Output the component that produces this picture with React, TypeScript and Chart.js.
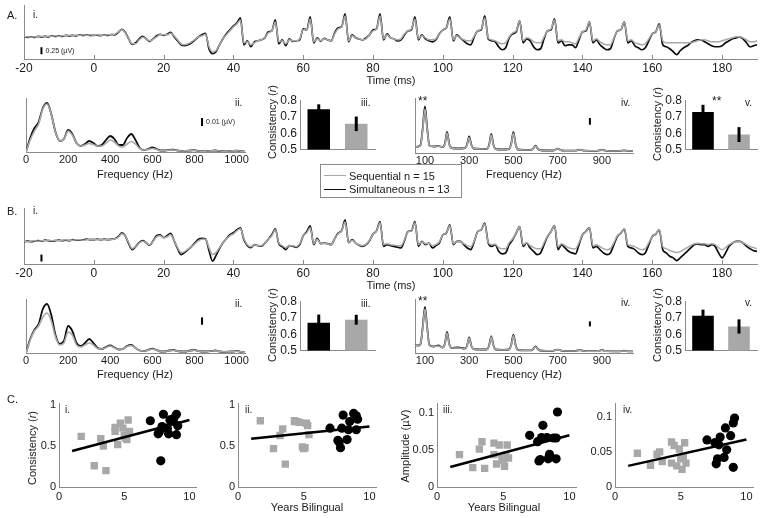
import { useEffect, useRef } from "react";
import { Chart, registerables } from "chart.js";

Chart.register(...registerables);

const FONT = '"Liberation Sans", Arial, Helvetica, sans-serif';
const INK = "#1a1a1a";
const AXIS = "#8a8a8a";
const GRAY = "#a8a8a8";
const BLACK = "#0d0d0d";
Chart.defaults.font.family = FONT;
Chart.defaults.color = INK;

// ---------------- DATA ----------------
const timeMs = [
  -20, -19, -18, -17, -16, -15, -14, -13, -12, -11,
  -10, -9, -8, -7, -6, -5, -4, -3, -2, -1,
  0, 1, 2, 3, 4, 5, 6, 7, 8, 9,
  10, 11, 12, 13, 14, 15, 16, 17, 18, 19,
  20, 21, 22, 23, 24, 25, 26, 27, 28, 29,
  30, 31, 32, 33, 34, 35, 36, 37, 38, 39,
  40, 41, 42, 43, 44, 45, 46, 47, 48, 49,
  50, 51, 52, 53, 54, 55, 56, 57, 58, 59,
  60, 61, 62, 63, 64, 65, 66, 67, 68, 69,
  70, 71, 72, 73, 74, 75, 76, 77, 78, 79,
  80, 81, 82, 83, 84, 85, 86, 87, 88, 89,
  90, 91, 92, 93, 94, 95, 96, 97, 98, 99,
  100, 101, 102, 103, 104, 105, 106, 107, 108, 109,
  110, 111, 112, 113, 114, 115, 116, 117, 118, 119,
  120, 121, 122, 123, 124, 125, 126, 127, 128, 129,
  130, 131, 132, 133, 134, 135, 136, 137, 138, 139,
  140, 141, 142, 143, 144, 145, 146, 147, 148, 149,
  150, 151, 152, 153, 154, 155, 156, 157, 158, 159,
  160, 161, 162, 163, 164, 165, 166, 167, 168, 169,
  170, 171, 172, 173, 174, 175, 176, 177, 178, 179,
  180, 181, 182, 183, 184, 185, 186, 187, 188, 189,
  190,
];

// A.i waveform, simultaneous (black)
const waveASim = [
  -2, -2.5, -2, -2.5, -1.5, -2, -1.5, -2, -1, -1.5,
  -1, -1.5, -0.5, -1, -0.5, -1, 0, -0.5, 0, -0.5,
  -0.5, -0.3, -0.8, 0, -0.5, 0.3, 0, 2.5, 5.5, 2.5,
  -4, -9.5, -8, -4, -1.5, -4, -6.5, -4, -1, 0.5,
  -0.5, 0.5, 2.5, -2, -6, -10, -11, -10, -8, -5,
  -2, 0, 1.5, -14, -19, -17, -10, -4, 1, 5,
  9, 12, 17, -10, -6, -12, -7, -6, -5, -3,
  3, 4, 15, -9, -5, -11, -4, -6.5, -6, -5,
  6, 5, 18, -8, -3, -6.5, -3.5, -5, -6, 2,
  7, 8, 21, -7, 0, -3, -4, -5, -3, 0,
  5, 6, 21, -5, 1, -3, -4, -6, -5, 0,
  4, 5, 18, -5, 0, -4, -6, -7, -5, 1,
  5, 7, 18, -6, 0, -3, -6, -9, -10, -2,
  4, 5, 19, -4, -6, -7, -12, -15, -13, -3,
  1, 3, 14, -8, -4, -6, -12, -15, -14, -4,
  4, 5, 16, -8, -6, -11, -10, -10, -13, -5,
  3, 4, 13, -8, -5, -10, -13, -15, -14, -4,
  4, 5, 13, -8, -6, -11, -13, -15, -13, -6,
  1, 3, 11, -10, -12, -14, -17, -20, -16, -13,
  -11, -8, -6, -5, -5, -7, -9, -11, -12, -12,
  -11, -8, -6, -4, -3, -2, -4, -8, -12, -11,
  -10,
];
// A.i waveform, sequential (gray)
const waveASeq = [
  -2, -2, -2.5, -2, -2, -1.5, -2, -1.5, -1.5, -1,
  -1.5, -1, -1, -0.5, -1, -0.5, -0.5, 0, -0.5, 0,
  -0.5, 0, -0.5, -0.3, 0, 0, 0.5, 3, 5, 2,
  -4, -9, -9, -5, -2.5, -4, -6, -4.5, -2, 0,
  0, 0, 1.5, -1, -5, -9, -10, -9, -7, -4.5,
  -2, -1, 0.5, -12, -17, -16, -10, -4, 0, 4,
  8, 11, 15, -8, -7, -10, -8, -6, -5, -3,
  2, 4, 13, -7, -6, -9, -5, -6, -6, -4,
  5, 5, 16, -7, -4, -6, -4, -5, -6, 1,
  6, 8, 19, -6, -1, -3, -4, -5, -4, 0,
  4, 6, 19, -4, 0, -3, -4, -5, -4, 1,
  4, 6, 16, -4, -1, -3, -5, -5, -4, 1,
  5, 7, 16, -5, -1, -3, -5, -6, -6, -1,
  4, 6, 17, -3, -5, -6, -8, -9, -8, -2,
  2, 4, 14, -6, -3, -4, -7, -8, -8, -2,
  4, 6, 15, -6, -5, -7, -7, -8, -9, -3,
  3, 5, 13, -6, -4, -7, -9, -10, -10, -3,
  4, 5, 13, -6, -5, -8, -9, -10, -9, -4,
  1, 3, 10, -6, -8, -8, -8, -8, -8, -8,
  -8, -8, -7, -6, -5, -5, -6, -7, -7, -7,
  -6, -5, -4, -3, -2, -2, -3, -5, -7, -7,
  -6,
];
// B.i waveform, simultaneous (black)
const waveBSim = [
  -1, -0.5, -1, -0.5, 0, -0.5, 0.5, 0, -0.5, 0,
  0.5, 0, 0.5, 0, 1, 0.5, 0.5, 1, 1.5, 1,
  1, 1.5, 1, 1.5, 1, 1.5, 2, 4, 8, 5,
  -3, -9, -6, -2, 0, -2, -4.5, 0, 5, 6,
  3, 5, 7.5, 0, -8, -14, -12, -9, -6, -2,
  1.5, 2.5, 2, -10, -20.5, -15, -8, -2, 2, 6,
  8, 11, 13, 1, -5, -7, -4, -5, -5.5, -2.3,
  1.5, 6, 12, -3, -6, -9, -5, -5.5, -6.7, -4,
  5, 9, 15, -4, 2.5, -3, -2.5, -3, -4, 2,
  7.7, 10, 21, -2, 1, -2.5, -4.5, -5.7, -4, 0,
  6.7, 10, 19.3, -5.7, -4, -5, -5.7, -6.5, -7.3, 0,
  9.3, 10, 19.3, -5.7, -0.7, -4, -2.3, -7.3, -5, -2.3,
  6, 7.7, 16, -4, -0.7, -0.7, -4, -7.3, -9, -0.7,
  9.3, 11, 17.7, -2.3, -5.7, -4, -10.7, -13.3, -12.3, -4,
  1, 7.7, 14.3, -5.7, -2.3, -7.3, -10.7, -14, -12.3, -4,
  4.3, 9.3, 15.3, -9, -4, -7.3, -10.7, -12.3, -13.3, -4,
  6, 9.3, 13.3, -7.3, -5.7, -9, -12.3, -14, -12.3, -4,
  4.3, 7.7, 11.7, -5.7, -7.3, -9, -12.3, -14, -12.3, -4,
  4.3, 6.7, 11, -9, -12.3, -15.7, -17.3, -20, -17.3, -14,
  -10.7, -7.3, -4, -3.3, -4, -4, -5.7, -4, -5.7, -12.3,
  -17.3, -12.3, -5.7, -2.3, -0.7, -0.7, -2.3, -5.7, -8, -10,
  -10.7,
];
// B.i waveform, sequential (gray)
const waveBSeq = [
  -0.5, -1, -0.5, 0, -0.5, 0, 0, 0.5, 0, 0.5,
  0, 0.5, 1, 0.5, 0.5, 1, 1, 0.5, 1, 1.5,
  1.5, 1, 1.5, 1, 1.5, 1, 2, 3.5, 7, 5,
  -2, -8, -6, -2.5, -0.5, -2, -4, -0.5, 4, 5,
  3, 4, 6, 0, -7, -12, -11, -8.5, -6, -3,
  0, 1.5, 1.5, -7, -14, -12, -7, -2, 2, 5,
  7, 10, 12, 2, -4, -6, -4, -5, -5, -2,
  1.5, 5, 11, -2, -5, -7, -5, -5, -6, -3,
  5, 8, 13, -3, 1.5, -3, -2.5, -3, -4, 2,
  7, 10, 19, -2, 0.5, -2.5, -4, -5, -3.5, 0.5,
  6.5, 10, 18, -4, -3, -4, -4.5, -5, -5, 1,
  9, 10, 18, -4, -1, -3, -2.5, -5, -4, -1,
  6, 8, 15, -3, -1, -1, -3, -5, -6, 0,
  9, 11, 17, -2, -4, -3.5, -7, -8, -8, -2,
  2, 8, 14, -4, -2, -5, -7, -8, -8, -2,
  5, 9, 15, -6, -3, -5, -7, -8, -8, -2,
  6, 9, 13, -5, -4, -6, -8, -9, -8, -2,
  5, 8, 12, -4, -5, -6, -8, -9, -8, -2,
  4, 7, 11, -6, -8, -10, -11, -12, -11, -9,
  -7, -5, -3, -2.5, -3, -3, -4, -3, -4, -7,
  -9, -7, -4, -2, -1, -1, -2, -4, -6, -7,
  -8,
];

// spectra, 0-1040 Hz
const freqLow = [
  0, 20, 40, 60, 80, 100, 120, 140, 160, 180, 200, 220, 240, 260, 280, 300, 320, 340,
  360, 380, 400, 420, 440, 460, 480, 500, 520, 540, 560, 580, 600, 620, 640, 660, 680,
  700, 720, 740, 760, 780, 800, 820, 840, 860, 880, 900, 920, 940, 960, 980, 1000, 1020, 1040,
];
const specAiiSim = [
  0, 14, 24, 30, 44, 49, 38, 20, 11, 13, 22, 18, 9, 6, 8, 11, 9, 6,
  7, 12, 16, 13, 7, 7, 14, 18, 12, 4, 2, 3, 4.5, 3, 1.5, 1.5, 2,
  2.3, 1.5, 1, 1.2, 1.5, 1.8, 1, 0.8, 1, 1.2, 1.5, 1, 0.8, 1, 1.2, 1.3, 0.8, 0.3,
];
const specAiiSeq = [
  0, 12, 21, 28, 43, 48, 38, 20, 11, 13, 21, 17, 9, 6, 7, 8.5, 7.5, 6,
  6, 9, 12, 10, 6, 5, 8, 10.5, 8, 3.5, 2, 2.5, 3.5, 2.5, 1.5, 1.5, 1.8,
  2, 1.5, 1, 1.2, 1.4, 1.6, 1, 0.8, 1, 1.1, 1.4, 1, 0.8, 1, 1.1, 1.2, 0.8, 0.3,
];
const specBiiSim = [
  0, 14, 23, 29, 44, 49, 38, 18, 9, 12, 27, 22, 10, 7, 10, 14, 10, 5,
  4, 6, 7.5, 5.5, 3.5, 4, 7, 8, 5, 2.5, 2, 3, 4.3, 3, 1.5, 1.5, 2.5,
  3, 2, 1.5, 1.5, 2.5, 3, 2, 1.5, 1.5, 2, 2.5, 1.5, 1.2, 1.3, 1.5, 2, 1.2, 0.5,
];
const specBiiSeq = [
  0, 13, 22, 27, 36, 40, 32, 16, 8, 10, 21, 18, 8, 6, 8, 10, 8, 4.5,
  4, 5.5, 7, 5, 3.5, 4, 6.5, 7.5, 5, 2.5, 2, 2.8, 4, 2.8, 1.5, 1.5, 2.3,
  2.8, 2, 1.5, 1.5, 2.3, 2.8, 2, 1.5, 1.5, 2, 2.3, 1.5, 1.2, 1.3, 1.5, 1.8, 1.2, 0.5,
];

// spectra, 55-1041 Hz (harmonics)
const freqHigh = [
  55, 70, 80, 90, 100, 110, 120, 140, 160, 180, 190, 200, 210, 220, 250, 280, 290, 300,
  310, 320, 350, 380, 390, 400, 410, 420, 450, 480, 490, 500, 510, 520, 550, 580, 590,
  600, 610, 620, 650, 680, 690, 700, 710, 720, 750, 780, 790, 800, 810, 820, 850, 880,
  890, 900, 910, 920, 950, 980, 990, 1000, 1010, 1020, 1041,
];
const specAivSim = [
  6, 6.5, 8, 25, 46.6, 25, 7.5, 6.5, 7, 6, 9, 21, 9, 5, 4.5, 5, 8, 16.6,
  8, 4.5, 4, 4, 8, 19, 8, 4, 3.5, 4, 9, 21, 9, 3.5, 3, 3, 4.5,
  7.3, 4.5, 3, 2.5, 2.5, 3.3, 4.3, 3.3, 2.5, 2.3, 2.3, 2.8, 3.3, 2.8, 2.3, 2.2, 2.2,
  2.7, 3.3, 2.7, 2.2, 2, 2, 2.3, 2.6, 2.3, 2, 2,
];
const specAivSeq = [
  6, 6.5, 8, 24, 44, 24, 7.5, 6.5, 7, 6, 8.5, 20, 8.5, 5, 4.5, 5, 7.5, 15.5,
  7.5, 4.5, 4, 4, 7.5, 18, 7.5, 4, 3.5, 4, 8.5, 20, 8.5, 3.5, 3, 3, 4.3,
  7, 4.3, 3, 2.5, 2.5, 3.2, 4.2, 3.2, 2.5, 2.3, 2.3, 2.8, 3.2, 2.8, 2.3, 2.2, 2.2,
  2.6, 3.2, 2.6, 2.2, 2, 2, 2.3, 2.5, 2.3, 2, 2,
];
const specBivSim = [
  7.7, 7.5, 9, 26, 46, 26, 8, 6.5, 7.5, 5.5, 9, 21, 9, 5, 5.5, 4.5, 7, 15.7,
  7, 4, 3.5, 3.5, 7.5, 16.7, 7.5, 3.5, 3, 3.5, 8, 18.3, 8, 3, 2.7, 2.7, 4,
  6.7, 4, 2.5, 2.2, 2.2, 2.8, 3.3, 2.8, 2.2, 2, 2, 2.5, 3, 2.5, 2, 1.8, 1.8,
  2.4, 3, 2.4, 1.8, 1.7, 1.7, 2, 2.3, 2, 1.7, 1.7,
];
const specBivSeq = [
  7.5, 7.5, 9, 25, 44, 25, 8, 6.5, 7, 5.5, 8.5, 20, 8.5, 5, 5, 4.5, 7, 15,
  7, 4, 3.5, 3.5, 7, 16, 7, 3.5, 3, 3.5, 7.5, 17.5, 7.5, 3, 2.7, 2.7, 4,
  6.3, 4, 2.5, 2.2, 2.2, 2.7, 3.2, 2.7, 2.2, 2, 2, 2.4, 2.9, 2.4, 2, 1.8, 1.8,
  2.3, 2.9, 2.3, 1.8, 1.7, 1.7, 2, 2.2, 2, 1.7, 1.7,
];

// bar panels: [Simultaneous, Sequential]
const groups = ["Simultaneous", "Sequential"];
const consAiii = [0.745, 0.657];
const errAiii = [0.03, 0.044];
const consAv = [0.729, 0.592];
const errAv = [0.043, 0.045];
const consBiii = [0.669, 0.688];
const errBiii = [0.05, 0.03];
const consBv = [0.712, 0.647];
const errBv = [0.037, 0.043];

// scatter panels
const yearsSeq = [1.7, 2.7, 3.2, 3.4, 3.6, 4.3, 4.3, 4.5, 4.7, 4.9, 5.0, 5.1, 5.2, 5.3, 5.4];
const yearsSim = [7.0, 7.6, 7.7, 7.8, 7.9, 8.0, 8.3, 8.4, 8.5, 8.8, 9.0, 9.0, 9.1];
const cConsSeq = [0.62, 0.26, 0.59, 0.5, 0.2, 0.73, 0.68, 0.52, 0.78, 0.72, 0.63, 0.6, 0.58, 0.82, 0.68];
const cConsSim = [0.81, 0.65, 0.68, 0.32, 0.74, 0.89, 0.72, 0.65, 0.82, 0.84, 0.64, 0.89, 0.75];
const cCons2Seq = [0.81, 0.47, 0.63, 0.71, 0.28, 0.81, 0.8, 0.8, 0.79, 0.49, 0.47, 0.48, 0.78, 0.75, 0.64];
const cCons2Sim = [0.72, 0.57, 0.55, 0.48, 0.72, 0.88, 0.58, 0.7, 0.8, 0.9, 0.7, 0.87, 0.83];
const cAmpSeq = [0.0435, 0.026, 0.051, 0.061, 0.025, 0.059, 0.0435, 0.031, 0.0565, 0.039, 0.036, 0.028, 0.042, 0.0565, 0.039];
const cAmpSim = [0.0696, 0.061, 0.035, 0.037, 0.0665, 0.083, 0.0665, 0.038, 0.044, 0.066, 0.038, 0.066, 0.101];
const cAmp2Seq = [0.048, 0.031, 0.0465, 0.05, 0.036, 0.064, 0.034, 0.059, 0.03, 0.054, 0.04, 0.025, 0.042, 0.063, 0.034];
const cAmp2Sim = [0.067, 0.063, 0.033, 0.04, 0.06, 0.071, 0.042, 0.084, 0.053, 0.073, 0.091, 0.028, 0.098];
const fitYears = [1, 10];
const fitCons = [0.44, 0.82];
const fitCons2 = [0.59, 0.74];
const fitAmp = [0.027, 0.0696];
const fitAmp2 = [0.03, 0.0675];

// tick labels
const timeTicks = [-20, 0, 20, 40, 60, 80, 100, 120, 140, 160, 180];
const freqTicksLow = [0, 200, 400, 600, 800, 1000];
const freqTicksHigh = [100, 300, 500, 700, 900];
const consTicks = [0.5, 0.6, 0.7, 0.8];
const yearTicks = [0, 5, 10];
const consScatTicks = [0, 0.5, 1];
const ampTicks = [0, 0.05, 0.1];

// ---------------- HELPERS ----------------
type Frame = { x: number; y: number; w: number; h: number; ml: number; mt: number; mr: number; mb: number };
const frame = (l: number, t: number, r: number, b: number, ml: number, mt: number, mr: number, mb: number): Frame => ({
  x: l - ml, y: t - mt, w: r - l + ml + mr, h: b - t + mt + mb, ml, mt, mr, mb,
});

const pts = (xs: number[], ys: number[]) => xs.map((x, i) => ({ x, y: ys[i] }));

function linAxis(dir: "x" | "y", f: Frame, min: number, max: number, tickVals: number[] | null,
  fmt: ((v: number) => string) | null, pad = 2, size = 11) {
  return {
    type: "linear", min, max,
    grid: { display: false, drawTicks: false },
    border: { display: true, color: AXIS, width: 1 },
    ticks: {
      display: !!fmt, padding: pad, color: INK, font: { size, family: FONT },
      autoSkip: false, maxRotation: 0, minRotation: 0,
      callback: (v: any) => (fmt ? fmt(Number(v)) : ""),
    },
    afterBuildTicks: (s: any) => { if (tickVals) s.ticks = tickVals.map((v) => ({ value: v })); },
    afterFit: (s: any) => { if (dir === "x") s.height = f.mb; else s.width = f.ml; },
  };
}

const baseOpts = (f: Frame, scales: any) => ({
  responsive: false, maintainAspectRatio: false, animation: false, devicePixelRatio: 1, events: [],
  layout: { padding: { left: 0, top: f.mt, right: f.mr, bottom: 0 } },
  plugins: { legend: { display: false }, tooltip: { enabled: false } },
  scales,
});

const inwardTicks = {
  id: "inwardTicks",
  afterDraw(chart: any) {
    const s = chart.scales.x; const ctx = chart.ctx;
    ctx.save(); ctx.strokeStyle = AXIS; ctx.lineWidth = 1;
    for (const t of s.ticks) {
      const px = Math.round(s.getPixelForValue(t.value)) + 0.5;
      ctx.beginPath(); ctx.moveTo(px, s.top); ctx.lineTo(px, s.top - 4); ctx.stroke();
    }
    ctx.restore();
  },
};

const scaleBar = (xv: number, y0: number, y1: number, label?: string) => ({
  id: "scaleBar",
  afterDatasetsDraw(chart: any) {
    const { x, y } = chart.scales; const ctx = chart.ctx;
    const px = x.getPixelForValue(xv); const p0 = y.getPixelForValue(y0); const p1 = y.getPixelForValue(y1);
    ctx.save(); ctx.strokeStyle = "#000"; ctx.lineWidth = 2;
    ctx.beginPath(); ctx.moveTo(px, p0); ctx.lineTo(px, p1); ctx.stroke();
    if (label) {
      ctx.fillStyle = INK; ctx.font = `7px ${FONT}`; ctx.textBaseline = "middle";
      ctx.fillText(label, px + 4, (p0 + p1) / 2);
    }
    ctx.restore();
  },
});

const errorBars = (means: number[], errs: number[]) => ({
  id: "errorBars",
  afterDatasetsDraw(chart: any) {
    const meta = chart.getDatasetMeta(0); const y = chart.scales.y; const ctx = chart.ctx;
    ctx.save(); ctx.strokeStyle = "#000"; ctx.lineWidth = 3;
    meta.data.forEach((bar: any, i: number) => {
      ctx.beginPath();
      ctx.moveTo(bar.x, y.getPixelForValue(means[i] - errs[i]));
      ctx.lineTo(bar.x, y.getPixelForValue(means[i] + errs[i]));
      ctx.stroke();
    });
    ctx.restore();
  },
});

const lineDs = (xs: number[], ys: number[], color: string, width: number) => ({
  data: pts(xs, ys), borderColor: color, borderWidth: width, pointRadius: 0, fill: false,
  cubicInterpolationMode: "monotone",
});

function waveChart(f: Frame, seq: number[], sim: number[], yMin: number, yMax: number, bar: any) {
  return {
    frame: f,
    config: {
      type: "line",
      data: { datasets: [lineDs(timeMs, seq, GRAY, 1.5), lineDs(timeMs, sim, BLACK, 1.7)] },
      options: baseOpts(f, {
        x: linAxis("x", f, -20, 190, timeTicks, (v) => String(v), 2, 12),
        y: linAxis("y", f, yMin, yMax, null, null),
      }),
      plugins: [inwardTicks, bar],
    },
  };
}

function specChart(f: Frame, xs: number[], seq: number[], sim: number[], xMin: number, xMax: number,
  ticks: number[], yMax: number, bar: any) {
  return {
    frame: f,
    config: {
      type: "line",
      data: { datasets: [lineDs(xs, seq, GRAY, 1.6), lineDs(xs, sim, BLACK, 1.8)] },
      options: baseOpts(f, {
        x: linAxis("x", f, xMin, xMax, ticks, (v) => String(v), 1, 11),
        y: linAxis("y", f, 0, yMax, null, null),
      }),
      plugins: [bar],
    },
  };
}

function barChart(f: Frame, means: number[], errs: number[]) {
  return {
    frame: f,
    config: {
      type: "bar",
      data: {
        labels: groups,
        datasets: [{ data: means, backgroundColor: ["#000000", GRAY], barPercentage: 0.6, categoryPercentage: 1, base: 0.5 }],
      },
      options: baseOpts(f, {
        x: {
          type: "category", grid: { display: false, drawTicks: false },
          border: { display: true, color: AXIS, width: 1 }, ticks: { display: false },
          afterFit: (s: any) => { s.height = f.mb; },
        },
        y: linAxis("y", f, 0.5, 0.8, consTicks, (v) => v.toFixed(1), 3, 12),
      }),
      plugins: [errorBars(means, errs)],
    },
  };
}

function scatterChart(f: Frame, seq: number[], sim: number[], fit: number[], yMax: number, yTicks: number[]) {
  return {
    frame: f,
    config: {
      type: "scatter",
      data: {
        datasets: [
          { data: pts(fitYears, fit), showLine: true, borderColor: "#000", borderWidth: 2.5, pointRadius: 0, order: 0 },
          { data: pts(yearsSim, sim), pointStyle: "circle", pointRadius: 4.6, pointBackgroundColor: "#000", pointBorderColor: "#000", pointBorderWidth: 0, order: 1 },
          { data: pts(yearsSeq, seq), pointStyle: "rect", pointRadius: 5.2, pointBackgroundColor: GRAY, pointBorderColor: GRAY, pointBorderWidth: 0, order: 2 },
        ],
      },
      options: baseOpts(f, {
        x: linAxis("x", f, 0, 10.5, yearTicks, (v) => String(v), 3, 11),
        y: linAxis("y", f, 0, yMax, yTicks, (v) => String(v), 3, 11),
      }),
    },
  };
}

const fAi = frame(24, 5, 757, 59, 24, 5, 5, 16);
const fBi = frame(24, 208, 757, 264, 24, 8, 5, 16);
const fAii = frame(26, 98, 245, 152, 20, 8, 14, 16);
const fAiv = frame(415, 98, 633, 153, 20, 8, 14, 16);
const fAiii = frame(300, 98, 375, 152, 30, 8, 4, 8);
const fAv = frame(685, 98, 757, 152, 30, 8, 4, 8);
const fBii = frame(26, 299, 245, 353, 20, 8, 14, 16);
const fBiv = frame(415, 299, 633, 353, 20, 8, 14, 16);
const fBiii = frame(300, 299, 375, 353, 30, 8, 4, 8);
const fBv = frame(685, 299, 757, 353, 30, 8, 4, 8);
const fCi = frame(59, 402, 196, 487, 22, 8, 10, 18);
const fCii = frame(238, 402, 376, 487, 22, 8, 10, 18);
const fCiii = frame(437, 402, 576, 487, 32, 8, 10, 18);
const fCiv = frame(615, 402, 753, 487, 32, 8, 6, 18);

function buildPanels() {
  return [
    waveChart(fAi, waveASeq, waveASim, -24.3, 30, scaleBar(-15, -12.5, -19.5, "0.25 (µV)")),
    waveChart(fBi, waveBSeq, waveBSim, -23.5, 33, scaleBar(-15, -14, -21)),
    specChart(fAii, freqLow, specAiiSeq, specAiiSim, 0, 1040, freqTicksLow, 54, scaleBar(836, 26, 34, "0.01 (µV)")),
    specChart(fAiv, freqHigh, specAivSeq, specAivSim, 55, 1041, freqTicksHigh, 55, scaleBar(846, 28.3, 35)),
    specChart(fBii, freqLow, specBiiSeq, specBiiSim, 0, 1040, freqTicksLow, 54, scaleBar(836, 28.3, 35.6)),
    specChart(fBiv, freqHigh, specBivSeq, specBivSim, 55, 1041, freqTicksHigh, 54, scaleBar(846, 26.6, 31.6)),
    barChart(fAiii, consAiii, errAiii),
    barChart(fAv, consAv, errAv),
    barChart(fBiii, consBiii, errBiii),
    barChart(fBv, consBv, errBv),
    scatterChart(fCi, cConsSeq, cConsSim, fitCons, 1.02, consScatTicks),
    scatterChart(fCii, cCons2Seq, cCons2Sim, fitCons2, 1.02, consScatTicks),
    scatterChart(fCiii, cAmpSeq, cAmpSim, fitAmp, 0.1123, ampTicks),
    scatterChart(fCiv, cAmp2Seq, cAmp2Sim, fitAmp2, 0.1186, ampTicks),
  ];
}
const PANELS = buildPanels();

function T({ x, y, s = 11, c = false, children, st }: any) {
  return (
    <div style={{
      position: "absolute", left: x, top: y, transform: c ? "translate(-50%,-50%)" : "translateY(-50%)",
      fontSize: s, lineHeight: 1, whiteSpace: "nowrap", color: INK, ...(st || {}),
    }}>{children}</div>
  );
}
function VT({ x, y, children }: any) {
  return (
    <div style={{
      position: "absolute", left: x, top: y, transform: "translate(-50%,-50%) rotate(-90deg)",
      fontSize: 11, lineHeight: 1, whiteSpace: "nowrap", color: INK,
    }}>{children}</div>
  );
}
const R = () => <i>r</i>;

export default function App() {
  const refs = useRef<(HTMLCanvasElement | null)[]>([]);
  useEffect(() => {
    const charts = PANELS.map((p, i) => new Chart(refs.current[i] as HTMLCanvasElement, p.config as any));
    return () => charts.forEach((c) => c.destroy());
  }, []);
  return (
    <div style={{ position: "absolute", left: 0, top: 0, width: 762, height: 518, background: "#fff", fontFamily: FONT, overflow: "hidden" }}>
      {PANELS.map((p, i) => (
        <canvas key={i} ref={(el) => { refs.current[i] = el; }} width={p.frame.w} height={p.frame.h}
          style={{ position: "absolute", left: p.frame.x, top: p.frame.y, width: p.frame.w, height: p.frame.h }} />
      ))}
      {/* panel letters */}
      <T x={7} y={15}>A.</T>
      <T x={33} y={15} s={10}>i.</T>
      <T x={7} y={211}>B.</T>
      <T x={33} y={211} s={10}>i.</T>
      <T x={7} y={399}>C.</T>
      <T x={235} y={103} s={10}>ii.</T>
      <T x={361} y={103} s={10}>iii.</T>
      <T x={621} y={103} s={10}>iv.</T>
      <T x={745} y={103} s={10}>v.</T>
      <T x={418} y={101} s={12}>**</T>
      <T x={712} y={101} s={12}>**</T>
      <T x={235} y={304} s={10}>ii.</T>
      <T x={361} y={304} s={10}>iii.</T>
      <T x={621} y={303} s={10}>iv.</T>
      <T x={745} y={303} s={10}>v.</T>
      <T x={418} y={301} s={12}>**</T>
      <T x={65} y={410} s={10}>i.</T>
      <T x={245} y={410} s={10}>ii.</T>
      <T x={443} y={410} s={10}>iii.</T>
      <T x={623} y={410} s={10}>iv.</T>
      {/* axis titles */}
      <T x={391} y={79.5} c>Time (ms)</T>
      <T x={391} y={285} c>Time (ms)</T>
      <T x={135} y={173.5} c>Frequency (Hz)</T>
      <T x={524} y={173.5} c>Frequency (Hz)</T>
      <T x={135} y={373.5} c>Frequency (Hz)</T>
      <T x={524} y={373.5} c>Frequency (Hz)</T>
      <T x={307} y={507} c>Years Bilingual</T>
      <T x={504} y={507} c>Years Bilingual</T>
      <VT x={272} y={122}>Consistency (<R />)</VT>
      <VT x={657} y={124}>Consistency (<R />)</VT>
      <VT x={272} y={325}>Consistency (<R />)</VT>
      <VT x={657} y={325}>Consistency (<R />)</VT>
      <VT x={32} y={448}>Consistency (<R />)</VT>
      <VT x={405} y={446}>Amplitude (µV)</VT>
      {/* legend */}
      <div style={{ position: "absolute", left: 320, top: 164, width: 140, height: 32, border: `1px solid ${AXIS}`, background: "#fff" }}>
        <div style={{ position: "absolute", left: 3, top: 10, width: 22, height: 0, borderTop: `1.5px solid ${GRAY}` }} />
        <T x={28} y={10.5}>Sequential n = 15</T>
        <div style={{ position: "absolute", left: 3, top: 23.5, width: 22, height: 0, borderTop: `1.5px solid ${BLACK}` }} />
        <T x={28} y={24}>Simultaneous  n = 13</T>
      </div>
    </div>
  );
}
